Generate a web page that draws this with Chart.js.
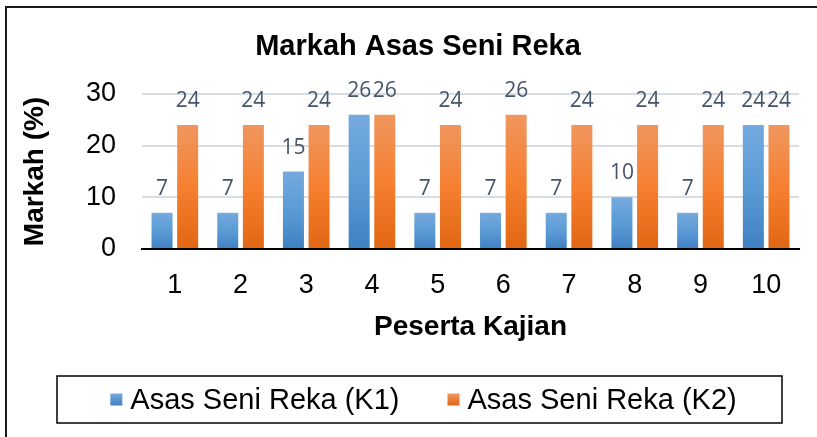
<!DOCTYPE html>
<html>
<head>
<meta charset="utf-8">
<title>Markah Asas Seni Reka</title>
<script src="https://cdn.jsdelivr.net/npm/chart.js@4.4.1/dist/chart.umd.min.js"></script>
<style>
  html, body { margin: 0; padding: 0; background: #fff; overflow: hidden; }
  canvas { display: block; }
</style>
</head>
<body>
<canvas id="chart" width="817" height="437"></canvas>
<script>
// data
const categories = ['1', '2', '3', '4', '5', '6', '7', '8', '9', '10'];
const k1Values = [7, 7, 15, 26, 7, 7, 7, 10, 7, 24];
const k2Values = [24, 24, 24, 26, 24, 26, 24, 24, 24, 24];
const seriesLabels = ['Asas Seni Reka (K1)', 'Asas Seni Reka (K2)'];
const yTicks = [0, 10, 20, 30];
const chartTitle = 'Markah Asas Seni Reka';

const FONT = '"Liberation Sans", Arial, sans-serif';
const blueStops = ['#74AADF', '#5B9BD5', '#3F80C2'];
const orangeStops = ['#F0965F', '#F58030', '#E26614'];

// vertical gradient per bar, light at the top like the Excel fill
function barGradient(stops) {
  return (ctx) => {
    const chart = ctx.chart;
    if (ctx.type !== 'data' || !chart.chartArea) return stops[1];
    const y = chart.scales.y;
    const top = y.getPixelForValue(ctx.raw);
    const base = y.getPixelForValue(0);
    const g = chart.ctx.createLinearGradient(0, top, 0, base);
    g.addColorStop(0, stops[0]);
    g.addColorStop(0.5, stops[1]);
    g.addColorStop(1, stops[2]);
    return g;
  };
}

// outer frame (only top and left edges are inside the picture) + title
const frameAndTitle = {
  id: 'frameAndTitle',
  beforeDraw(chart) {
    const c = chart.ctx;
    c.save();
    c.fillStyle = '#fff';
    c.fillRect(0, 0, chart.width, chart.height);
    c.strokeStyle = '#1a1a1a';
    c.lineWidth = 2;
    c.beginPath();
    c.moveTo(6, chart.height);
    c.lineTo(6, 7);
    c.lineTo(chart.width, 7);
    c.stroke();

    c.fillStyle = '#000';
    c.font = 'bold 29px ' + FONT;
    c.textAlign = 'center';
    c.textBaseline = 'middle';
    c.fillText(chartTitle, 418, 47);
    c.restore();
  }
};

// value labels above every bar
const valueLabels = {
  id: 'valueLabels',
  afterDatasetsDraw(chart) {
    const c = chart.ctx;
    c.save();
    c.font = '21px "Open Sans", sans-serif';
    c.fillStyle = '#44546A';
    c.textAlign = 'center';
    c.textBaseline = 'alphabetic';
    chart.data.datasets.forEach((ds, i) => {
      chart.getDatasetMeta(i).data.forEach((bar, j) => {
        c.fillText(String(ds.data[j]), bar.x, bar.y - 18);
      });
    });
    c.restore();
  }
};

// legend inside a bordered box under the axis title
const boxedLegend = {
  id: 'boxedLegend',
  afterDraw(chart) {
    const c = chart.ctx;
    const left = 57, top = 376, right = 782, bottom = 423;
    c.save();
    c.strokeStyle = '#000';
    c.lineWidth = 1.5;
    c.strokeRect(left, top, right - left, bottom - top);

    c.font = '29px ' + FONT;
    c.textBaseline = 'middle';
    c.textAlign = 'left';
    const stops = [blueStops, orangeStops];
    const widths = seriesLabels.map(t => c.measureText(t).width);
    const gap = 48, marker = 12, markerGap = 8;
    const total = widths.reduce((a, w) => a + marker + markerGap + w, 0) + gap;
    let x = (left + right) / 2 + 4 - total / 2;
    const midY = (top + bottom) / 2;
    seriesLabels.forEach((label, i) => {
      const g = c.createLinearGradient(0, midY - 6, 0, midY + 6);
      g.addColorStop(0, stops[i][0]);
      g.addColorStop(1, stops[i][2]);
      c.fillStyle = g;
      c.fillRect(x, midY - 6, marker, marker);
      c.fillStyle = '#000';
      c.fillText(label, x + marker + markerGap, midY + 1);
      x += marker + markerGap + widths[i] + gap;
    });
    c.restore();
  }
};

new Chart(document.getElementById('chart'), {
  type: 'bar',
  data: {
    labels: categories,
    datasets: [
      {
        label: seriesLabels[0],
        data: k1Values,
        backgroundColor: barGradient(blueStops),
        categoryPercentage: 0.78,
        barPercentage: 0.82
      },
      {
        label: seriesLabels[1],
        data: k2Values,
        backgroundColor: barGradient(orangeStops),
        categoryPercentage: 0.78,
        barPercentage: 0.82
      }
    ]
  },
  options: {
    responsive: false,
    animation: false,
    events: [],
    layout: { padding: { left: 18, right: 18, top: 94, bottom: 88 } },
    plugins: {
      legend: { display: false },
      tooltip: { enabled: false },
      title: { display: false }
    },
    scales: {
      x: {
        grid: { display: false, drawTicks: false },
        border: { display: true, color: '#000', width: 2 },
        ticks: { color: '#000', font: { family: FONT, size: 27 }, padding: 20, maxRotation: 0 },
        title: {
          display: true,
          text: 'Peserta Kajian',
          color: '#000',
          font: { family: FONT, size: 28, weight: 'bold' },
          padding: { top: 0, bottom: 5 }
        },
        afterFit(s) { s.height = 100; }
      },
      y: {
        min: yTicks[0],
        max: yTicks[yTicks.length - 1],
        afterBuildTicks(s) { s.ticks = yTicks.map(v => ({ value: v })); },
        grid: {
          color: (ctx) => ctx.tick && ctx.tick.value === 0 ? 'rgba(0,0,0,0)' : '#D9DCE0',
          lineWidth: 2,
          drawTicks: false
        },
        border: { display: false },
        ticks: { color: '#000', font: { family: FONT, size: 27 }, padding: 26 },
        title: {
          display: true,
          text: 'Markah (%)',
          color: '#000',
          font: { family: FONT, size: 28, weight: 'bold' },
          padding: { top: 0, bottom: 0 }
        },
        afterFit(s) { s.width = 124; }
      }
    }
  },
  plugins: [frameAndTitle, valueLabels, boxedLegend]
});
</script>
</body>
</html>
